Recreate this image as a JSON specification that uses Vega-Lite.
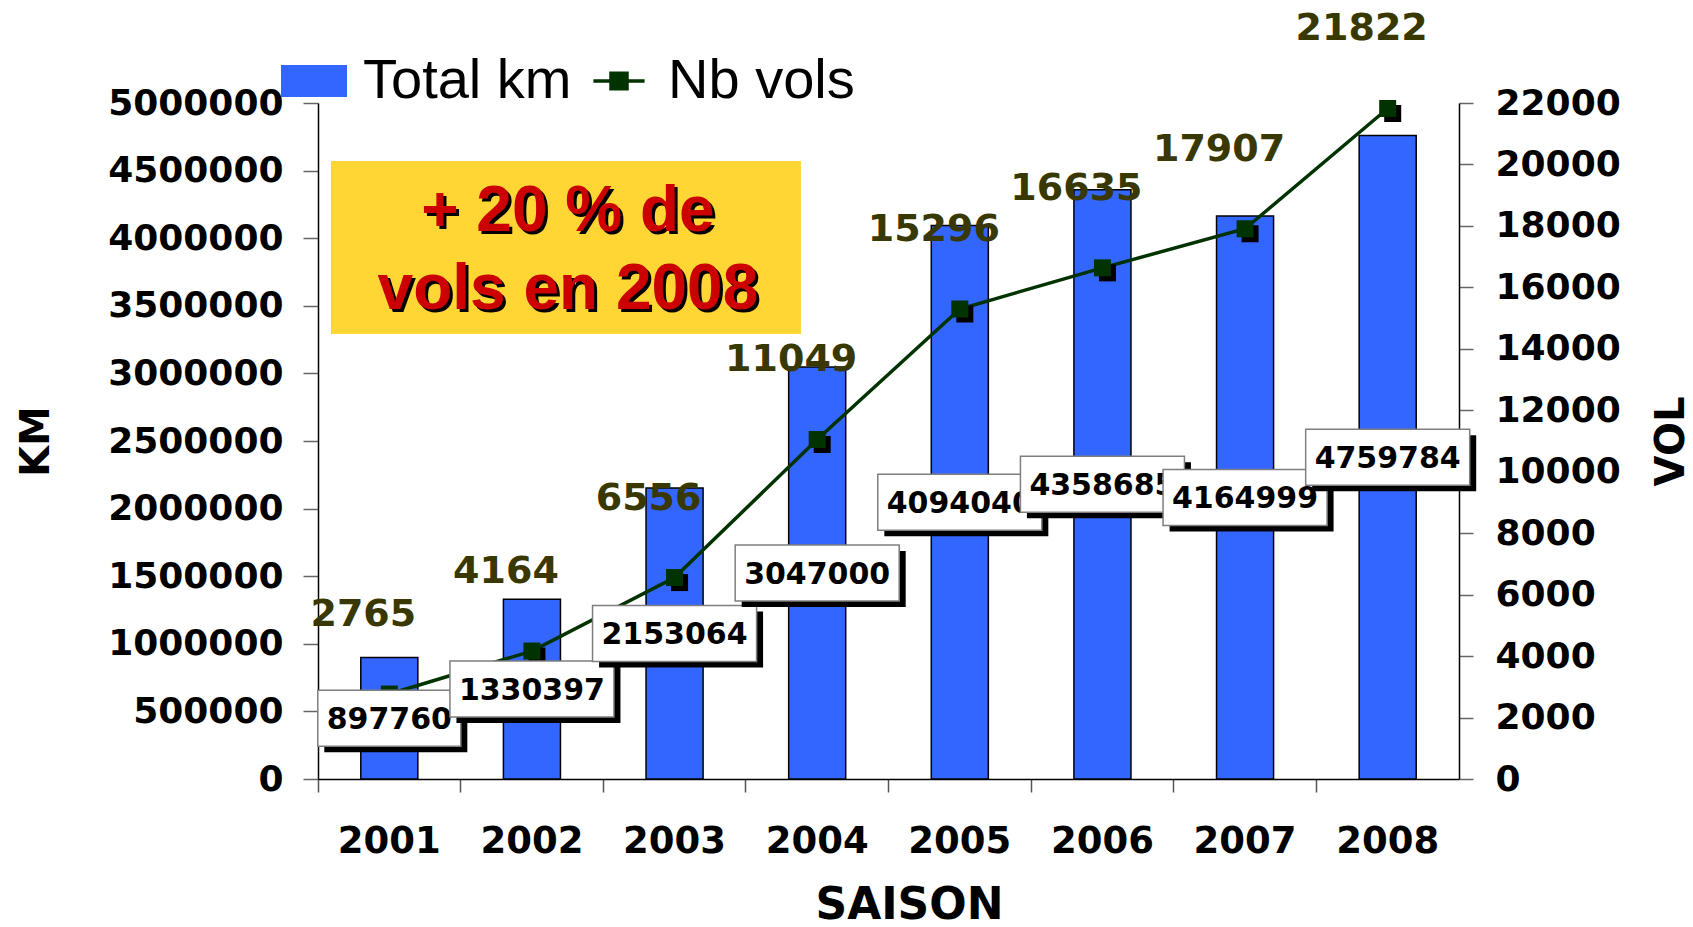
{
"$schema": "https://vega.github.io/schema/vega-lite/v6.json",
"width": 1141, "height": 676,
"autosize": {"type": "none"},
"padding": {"left": 318, "top": 103, "right": 234, "bottom": 148},
"background": "white",
"config": {"view": {"stroke": null}, "font": "DejaVu Sans", "axis": {"labelFont": "DejaVu Sans", "titleFont": "DejaVu Sans", "grid": false}},
"data": {"values": [
 {"year": "2001", "km": 897760, "vols": 2765},
 {"year": "2002", "km": 1330397, "vols": 4164},
 {"year": "2003", "km": 2153064, "vols": 6556},
 {"year": "2004", "km": 3047000, "vols": 11049},
 {"year": "2005", "km": 4094040, "vols": 15296},
 {"year": "2006", "km": 4358685, "vols": 16635},
 {"year": "2007", "km": 4164999, "vols": 17907},
 {"year": "2008", "km": 4759784, "vols": 21822}
]},
"encoding": {"x": {"field": "year", "type": "nominal", "sort": null,
  "scale": {"type": "band", "paddingInner": 0.6, "paddingOuter": 0.3},
  "axis": {"title": "SAISON", "labelAngle": 0, "labelFontWeight": "bold", "labelFontSize": 37, "labelColor": "black", "labelPadding": 31, "labelOverlap": false,
    "bandPosition": -0.75, "tickSize": 13, "tickColor": "#555555", "tickWidth": 1.5, "domainColor": "black", "domainWidth": 1.5,
    "titleFontSize": 44, "titleFontWeight": "bold", "titleColor": "black", "titlePadding": 24, "titleX": 591}}},
"resolve": {"scale": {"y": "independent"}},
"layer": [
 {"mark": {"type": "bar", "stroke": "black", "strokeWidth": 1.5},
  "encoding": {
   "y": {"field": "km", "type": "quantitative", "scale": {"domain": [0, 5000000], "nice": false},
     "axis": {"title": "KM", "orient": "left", "values": [0,500000,1000000,1500000,2000000,2500000,3000000,3500000,4000000,4500000,5000000], "format": "d",
       "labelFontSize": 36, "labelFontWeight": "bold", "labelColor": "black", "labelPadding": 20, "labelOverlap": false,
       "tickSize": 15, "tickColor": "#666666", "tickWidth": 1.5, "domainColor": "black", "domainWidth": 1.5,
       "titleFontSize": 40, "titleFontWeight": "bold", "titleColor": "black", "titlePadding": 62}},
   "color": {"datum": "Total km", "type": "nominal", "scale": {"domain": ["Total km", "Nb vols"], "range": ["#3366ff", "#003300"]},
     "legend": {"title": null, "orient": "none", "legendX": -32, "legendY": -50, "direction": "horizontal", "padding": 0,
       "labelFont": "Liberation Sans", "labelFontSize": 56, "labelFontWeight": "normal", "labelColor": "black", "labelOffset": 21, "labelLimit": 600,
       "columnPadding": 14, "symbolSize": 4096, "symbolType": "M-1,-0.47H1V0.47H-1Z", "symbolStrokeWidth": 2, "symbolOpacity": 1,
       "encoding": {"symbols": {
         "shape": {"value": {"expr": "datum.value === 'Total km' ? 'M-1,-0.47H1V0.47H-1Z' : 'M-0.8,0H0.8M-0.25,-0.24H0.25V0.24H-0.25Z'"}},
         "fill": {"value": {"expr": "datum.value === 'Total km' ? '#3366ff' : '#003300'"}},
         "stroke": {"value": {"expr": "datum.value === 'Total km' ? '#000000' : '#003300'"}},
         "strokeWidth": {"value": {"expr": "datum.value === 'Total km' ? 2 : 3.5"}},
         "opacity": {"value": 1}, "fillOpacity": {"value": 1}}}}}}},
 {"encoding": {"y": {"field": "vols", "type": "quantitative", "scale": {"domain": [0, 22000], "nice": false},
     "axis": {"title": "VOL", "orient": "right", "values": [0,2000,4000,6000,8000,10000,12000,14000,16000,18000,20000,22000], "format": "d",
       "labelFontSize": 36, "labelFontWeight": "bold", "labelColor": "black", "labelPadding": 22, "labelOverlap": false,
       "tickSize": 14, "tickColor": "#666666", "tickWidth": 1.5, "domainColor": "black", "domainWidth": 1.5,
       "titleFontSize": 40, "titleFontWeight": "bold", "titleColor": "black", "titlePadding": 31, "titleAngle": 270, "titleBaseline": "top"}}},
  "layer": [
   {"mark": {"type": "line", "strokeWidth": 3.5}, "encoding": {"color": {"datum": "Nb vols", "type": "nominal"}}},
   {"mark": {"type": "point", "shape": "M-0.41,-0.41H1.59V1.59H-0.41Z", "size": 289, "filled": true, "color": "black", "opacity": 1, "strokeWidth": 0}},
   {"mark": {"type": "point", "shape": "square", "size": 289, "filled": true, "color": "#003300", "opacity": 1, "strokeWidth": 0}},
   {"mark": {"type": "text", "font": "DejaVu Sans", "fontWeight": "bold", "fontSize": 38, "color": "#383800", "dx": -26, "dy": -79},
    "encoding": {"text": {"field": "vols", "type": "quantitative", "format": "d"}}}
  ]},
 {"transform": [{"filter": "datum.year == '2001'"}],
  "encoding": {"y": {"field": "km", "type": "quantitative", "scale": {"domain": [0, 10000000], "nice": false}, "axis": null}},
  "layer": [
   {"mark": {"type": "point", "filled": true, "color": "black", "opacity": 1, "size": 3136, "strokeWidth": 0}, "encoding": {"shape": {"condition": {"test": "datum.km < 1000000", "value": "M-2.322,-0.786H2.786V1.214H-2.322Z"}, "value": "M-2.696,-0.786H3.161V1.214H-2.696Z"}}},
   {"mark": {"type": "point", "filled": true, "fill": "white", "stroke": "#7f7f7f", "strokeWidth": 1.5, "opacity": 1, "size": 3136}, "encoding": {"shape": {"condition": {"test": "datum.km < 1000000", "value": "M-2.554,-1H2.554V1H-2.554Z"}, "value": "M-2.929,-1H2.929V1H-2.929Z"}}},
   {"mark": {"type": "text", "font": "DejaVu Sans", "fontWeight": "bold", "fontSize": 30, "color": "black", "dy": 2}, "encoding": {"text": {"field": "km", "type": "quantitative", "format": "d"}}}
  ]},
 {"transform": [{"filter": "datum.year == '2002'"}],
  "encoding": {"y": {"field": "km", "type": "quantitative", "scale": {"domain": [0, 10000000], "nice": false}, "axis": null}},
  "layer": [
   {"mark": {"type": "point", "filled": true, "color": "black", "opacity": 1, "size": 3136, "strokeWidth": 0}, "encoding": {"shape": {"condition": {"test": "datum.km < 1000000", "value": "M-2.322,-0.786H2.786V1.214H-2.322Z"}, "value": "M-2.696,-0.786H3.161V1.214H-2.696Z"}}},
   {"mark": {"type": "point", "filled": true, "fill": "white", "stroke": "#7f7f7f", "strokeWidth": 1.5, "opacity": 1, "size": 3136}, "encoding": {"shape": {"condition": {"test": "datum.km < 1000000", "value": "M-2.554,-1H2.554V1H-2.554Z"}, "value": "M-2.929,-1H2.929V1H-2.929Z"}}},
   {"mark": {"type": "text", "font": "DejaVu Sans", "fontWeight": "bold", "fontSize": 30, "color": "black", "dy": 2}, "encoding": {"text": {"field": "km", "type": "quantitative", "format": "d"}}}
  ]},
 {"transform": [{"filter": "datum.year == '2003'"}],
  "encoding": {"y": {"field": "km", "type": "quantitative", "scale": {"domain": [0, 10000000], "nice": false}, "axis": null}},
  "layer": [
   {"mark": {"type": "point", "filled": true, "color": "black", "opacity": 1, "size": 3136, "strokeWidth": 0}, "encoding": {"shape": {"condition": {"test": "datum.km < 1000000", "value": "M-2.322,-0.786H2.786V1.214H-2.322Z"}, "value": "M-2.696,-0.786H3.161V1.214H-2.696Z"}}},
   {"mark": {"type": "point", "filled": true, "fill": "white", "stroke": "#7f7f7f", "strokeWidth": 1.5, "opacity": 1, "size": 3136}, "encoding": {"shape": {"condition": {"test": "datum.km < 1000000", "value": "M-2.554,-1H2.554V1H-2.554Z"}, "value": "M-2.929,-1H2.929V1H-2.929Z"}}},
   {"mark": {"type": "text", "font": "DejaVu Sans", "fontWeight": "bold", "fontSize": 30, "color": "black", "dy": 2}, "encoding": {"text": {"field": "km", "type": "quantitative", "format": "d"}}}
  ]},
 {"transform": [{"filter": "datum.year == '2004'"}],
  "encoding": {"y": {"field": "km", "type": "quantitative", "scale": {"domain": [0, 10000000], "nice": false}, "axis": null}},
  "layer": [
   {"mark": {"type": "point", "filled": true, "color": "black", "opacity": 1, "size": 3136, "strokeWidth": 0}, "encoding": {"shape": {"condition": {"test": "datum.km < 1000000", "value": "M-2.322,-0.786H2.786V1.214H-2.322Z"}, "value": "M-2.696,-0.786H3.161V1.214H-2.696Z"}}},
   {"mark": {"type": "point", "filled": true, "fill": "white", "stroke": "#7f7f7f", "strokeWidth": 1.5, "opacity": 1, "size": 3136}, "encoding": {"shape": {"condition": {"test": "datum.km < 1000000", "value": "M-2.554,-1H2.554V1H-2.554Z"}, "value": "M-2.929,-1H2.929V1H-2.929Z"}}},
   {"mark": {"type": "text", "font": "DejaVu Sans", "fontWeight": "bold", "fontSize": 30, "color": "black", "dy": 2}, "encoding": {"text": {"field": "km", "type": "quantitative", "format": "d"}}}
  ]},
 {"transform": [{"filter": "datum.year == '2005'"}],
  "encoding": {"y": {"field": "km", "type": "quantitative", "scale": {"domain": [0, 10000000], "nice": false}, "axis": null}},
  "layer": [
   {"mark": {"type": "point", "filled": true, "color": "black", "opacity": 1, "size": 3136, "strokeWidth": 0}, "encoding": {"shape": {"condition": {"test": "datum.km < 1000000", "value": "M-2.322,-0.786H2.786V1.214H-2.322Z"}, "value": "M-2.696,-0.786H3.161V1.214H-2.696Z"}}},
   {"mark": {"type": "point", "filled": true, "fill": "white", "stroke": "#7f7f7f", "strokeWidth": 1.5, "opacity": 1, "size": 3136}, "encoding": {"shape": {"condition": {"test": "datum.km < 1000000", "value": "M-2.554,-1H2.554V1H-2.554Z"}, "value": "M-2.929,-1H2.929V1H-2.929Z"}}},
   {"mark": {"type": "text", "font": "DejaVu Sans", "fontWeight": "bold", "fontSize": 30, "color": "black", "dy": 2}, "encoding": {"text": {"field": "km", "type": "quantitative", "format": "d"}}}
  ]},
 {"transform": [{"filter": "datum.year == '2006'"}],
  "encoding": {"y": {"field": "km", "type": "quantitative", "scale": {"domain": [0, 10000000], "nice": false}, "axis": null}},
  "layer": [
   {"mark": {"type": "point", "filled": true, "color": "black", "opacity": 1, "size": 3136, "strokeWidth": 0}, "encoding": {"shape": {"condition": {"test": "datum.km < 1000000", "value": "M-2.322,-0.786H2.786V1.214H-2.322Z"}, "value": "M-2.696,-0.786H3.161V1.214H-2.696Z"}}},
   {"mark": {"type": "point", "filled": true, "fill": "white", "stroke": "#7f7f7f", "strokeWidth": 1.5, "opacity": 1, "size": 3136}, "encoding": {"shape": {"condition": {"test": "datum.km < 1000000", "value": "M-2.554,-1H2.554V1H-2.554Z"}, "value": "M-2.929,-1H2.929V1H-2.929Z"}}},
   {"mark": {"type": "text", "font": "DejaVu Sans", "fontWeight": "bold", "fontSize": 30, "color": "black", "dy": 2}, "encoding": {"text": {"field": "km", "type": "quantitative", "format": "d"}}}
  ]},
 {"transform": [{"filter": "datum.year == '2007'"}],
  "encoding": {"y": {"field": "km", "type": "quantitative", "scale": {"domain": [0, 10000000], "nice": false}, "axis": null}},
  "layer": [
   {"mark": {"type": "point", "filled": true, "color": "black", "opacity": 1, "size": 3136, "strokeWidth": 0}, "encoding": {"shape": {"condition": {"test": "datum.km < 1000000", "value": "M-2.322,-0.786H2.786V1.214H-2.322Z"}, "value": "M-2.696,-0.786H3.161V1.214H-2.696Z"}}},
   {"mark": {"type": "point", "filled": true, "fill": "white", "stroke": "#7f7f7f", "strokeWidth": 1.5, "opacity": 1, "size": 3136}, "encoding": {"shape": {"condition": {"test": "datum.km < 1000000", "value": "M-2.554,-1H2.554V1H-2.554Z"}, "value": "M-2.929,-1H2.929V1H-2.929Z"}}},
   {"mark": {"type": "text", "font": "DejaVu Sans", "fontWeight": "bold", "fontSize": 30, "color": "black", "dy": 2}, "encoding": {"text": {"field": "km", "type": "quantitative", "format": "d"}}}
  ]},
 {"transform": [{"filter": "datum.year == '2008'"}],
  "encoding": {"y": {"field": "km", "type": "quantitative", "scale": {"domain": [0, 10000000], "nice": false}, "axis": null}},
  "layer": [
   {"mark": {"type": "point", "filled": true, "color": "black", "opacity": 1, "size": 3136, "strokeWidth": 0}, "encoding": {"shape": {"condition": {"test": "datum.km < 1000000", "value": "M-2.322,-0.786H2.786V1.214H-2.322Z"}, "value": "M-2.696,-0.786H3.161V1.214H-2.696Z"}}},
   {"mark": {"type": "point", "filled": true, "fill": "white", "stroke": "#7f7f7f", "strokeWidth": 1.5, "opacity": 1, "size": 3136}, "encoding": {"shape": {"condition": {"test": "datum.km < 1000000", "value": "M-2.554,-1H2.554V1H-2.554Z"}, "value": "M-2.929,-1H2.929V1H-2.929Z"}}},
   {"mark": {"type": "text", "font": "DejaVu Sans", "fontWeight": "bold", "fontSize": 30, "color": "black", "dy": 2}, "encoding": {"text": {"field": "km", "type": "quantitative", "format": "d"}}}
  ]},
 {"transform": [{"filter": "datum.year == '2002'"}],
  "encoding": {"y": {"datum": 3950000, "type": "quantitative", "scale": {"domain": [0, 5000000], "nice": false}, "axis": null}},
  "layer": [
   {"mark": {"type": "point", "shape": "M-4.02,-1.68H5.38V1.78H-4.02Z", "size": 10000, "filled": true, "color": "#ffd633", "opacity": 1, "strokeWidth": 0}},
   {"mark": {"type": "text", "text": ["+ 20 % de", "vols en 2008"], "font": "Liberation Sans", "fontWeight": "bold", "fontSize": 64, "lineHeight": 78, "color": "black", "dx": 39, "dy": -30}},
   {"mark": {"type": "text", "text": ["+ 20 % de", "vols en 2008"], "font": "Liberation Sans", "fontWeight": "bold", "fontSize": 64, "lineHeight": 78, "color": "#cc0000", "dx": 36, "dy": -33}}
  ]}
]
}
